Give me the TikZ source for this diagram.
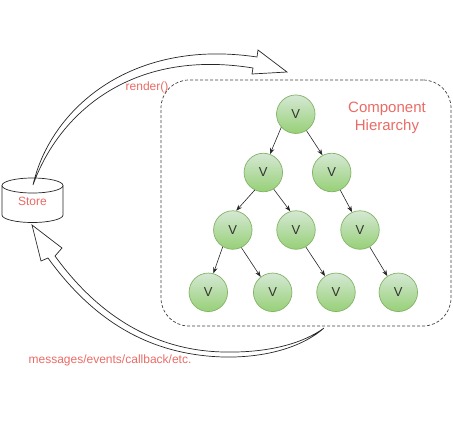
\documentclass[tikz,border=0pt]{standalone}
\usepackage{fontspec}
\setmainfont{Liberation Sans}
\usetikzlibrary{arrows.meta}
\definecolor{lbl}{HTML}{EA6B66}
\definecolor{gstroke}{HTML}{82B366}
\definecolor{gtop}{HTML}{D5E8D4}
\definecolor{gbot}{HTML}{97D077}
\definecolor{vtext}{HTML}{333333}
\begin{document}
\begin{tikzpicture}[x=1pt,y=-1pt,
  vnode/.style={circle, draw=gstroke, line width=0.7pt, top color=gtop, bottom color=gbot, minimum size=38.5pt, inner sep=0pt, text=vtext, font=\fontsize{13}{13}\selectfont},
  tedge/.style={-{Stealth[length=6pt,width=4.5pt]}, line width=0.6pt, draw=black!85},
  redlbl/.style={text=lbl, font=\fontsize{12}{14}\selectfont, inner sep=0pt},
  bigarrow/.style={draw=black!85, fill=white, line width=0.7pt, line join=miter}]
\useasboundingbox (0,0) rectangle (453,440);

% container
\node[draw=black!75, line width=0.7pt, dash pattern=on 3pt off 2pt, rounded corners=28pt, minimum width=290pt, minimum height=246pt, inner sep=0pt] (frame) at (306,203) {};

% store cylinder
\draw[line width=0.7pt, draw=black!85, fill=white] (2,185.5) -- (2,215) arc (180:0:30.5 and 7.5) -- (63,185.5);
\draw[line width=0.7pt, draw=black!85, fill=white] (32.5,185.5) ellipse (30.5 and 7.5);
\node[redlbl] (store) at (32.5,201) {Store};

% big hollow arrows
\draw[bigarrow] (33,185) .. controls (50,110) and (130,38) .. (257,57) -- (258,50) -- (287,72) -- (252,74) -- (253,68) .. controls (130,48) and (58,115) .. (33,185) -- cycle;
\draw[bigarrow] (324,328) .. controls (305,345) and (270,358) .. (223,357) .. controls (160,355) and (100,330) .. (48,258) -- (41,261) -- (32,225) -- (62,248) -- (55,256) .. controls (105,325) and (165,351) .. (224,352) .. controls (272,353) and (305,342) .. (324,328) -- cycle;

% labels
\node[redlbl] (rl) at (147,87) {render()};
\node[redlbl] (ml) at (110,360) {messages/events/callback/etc.};
\node[redlbl, font=\fontsize{15}{18}\selectfont, align=center] (ch) at (387,118) {Component\\Hierarchy};

% tree
\node[vnode] (r)  at (295.8,114.2) {V};
\node[vnode] (a)  at (263.3,172.5) {V};
\node[vnode] (b)  at (331.7,172.5) {V};
\node[vnode] (aa) at (232.8,230) {V};
\node[vnode] (ab) at (296,230) {V};
\node[vnode] (bc) at (360,230) {V};
\node[vnode] (d1) at (208.3,292.3) {V};
\node[vnode] (d2) at (272.7,292.3) {V};
\node[vnode] (d3) at (336,292.3) {V};
\node[vnode] (d4) at (398.3,292.3) {V};

\draw[tedge] (r.222) -- (a.70);
\draw[tedge] (r.303) -- (b.118);
\draw[tedge] (a.244) -- (aa.80);
\draw[tedge] (a.302) -- (ab.107);
\draw[tedge] (b.296) -- (bc.114);
\draw[tedge] (aa.239) -- (d1.75);
\draw[tedge] (aa.296) -- (d2.128);
\draw[tedge] (ab.300) -- (d3.124);
\draw[tedge] (bc.300) -- (d4.124);
\end{tikzpicture}
\end{document}
